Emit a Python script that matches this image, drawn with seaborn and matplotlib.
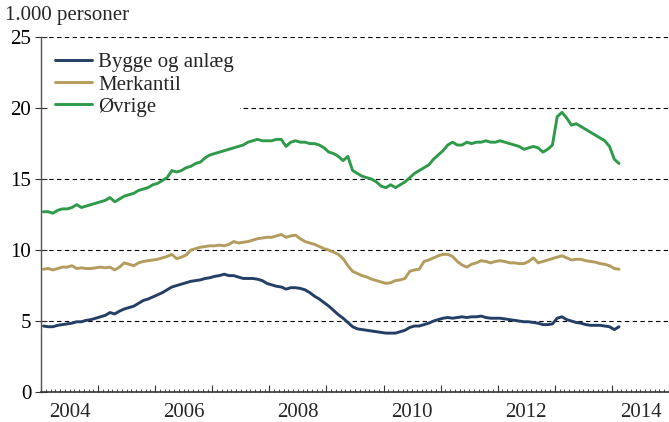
import numpy as np
import pandas as pd
import matplotlib
matplotlib.use("Agg")
import matplotlib.pyplot as plt
import seaborn as sns
from matplotlib.ticker import MultipleLocator, NullFormatter

# Monthly data, Jan 2004 - Feb 2014 (1.000 personer)
start_year = 2004
series_names = ["Bygge og anlæg", "Merkantil", "Øvrige"]

bygge = [4.65, 4.6, 4.6, 4.7, 4.75, 4.8, 4.85, 4.95, 4.95, 5.05, 5.1, 5.2,
         5.3, 5.4, 5.6, 5.5, 5.7, 5.85, 5.95, 6.05, 6.25, 6.45, 6.55, 6.7,
         6.85, 7.0, 7.2, 7.4, 7.5, 7.6, 7.7, 7.8, 7.85, 7.9, 8.0, 8.05,
         8.15, 8.2, 8.3, 8.2, 8.2, 8.1, 8.0, 8.0, 8.0, 7.95, 7.85, 7.65,
         7.55, 7.45, 7.4, 7.25, 7.35, 7.35, 7.3, 7.2, 7.0, 6.75, 6.55, 6.3,
         6.05, 5.75, 5.45, 5.2, 4.9, 4.6, 4.45, 4.4, 4.35, 4.3, 4.25, 4.2,
         4.15, 4.15, 4.15, 4.25, 4.35, 4.55, 4.65, 4.65, 4.75, 4.85, 5.0, 5.1,
         5.2, 5.25, 5.2, 5.25, 5.3, 5.25, 5.3, 5.3, 5.35, 5.25, 5.2, 5.2,
         5.2, 5.15, 5.1, 5.05, 5.0, 4.95, 4.95, 4.9, 4.85, 4.75, 4.75, 4.8,
         5.2, 5.3, 5.1, 5.0, 4.9, 4.85, 4.75, 4.7, 4.7, 4.7, 4.65, 4.6,
         4.4, 4.6]

merkantil = [8.65, 8.7, 8.6, 8.7, 8.8, 8.8, 8.9, 8.7, 8.75, 8.7, 8.7, 8.75,
             8.8, 8.75, 8.8, 8.6, 8.8, 9.1, 9.0, 8.9, 9.1, 9.2, 9.25, 9.3,
             9.35, 9.45, 9.55, 9.7, 9.4, 9.5, 9.65, 10.0, 10.1, 10.2, 10.25, 10.3,
             10.3, 10.35, 10.3, 10.4, 10.6, 10.5, 10.55, 10.6, 10.7, 10.8, 10.85, 10.9,
             10.9, 11.0, 11.1, 10.9, 11.0, 11.05, 10.8, 10.6, 10.5, 10.4, 10.25, 10.1,
             10.0, 9.85, 9.7, 9.4, 8.9, 8.5, 8.35, 8.2, 8.1, 7.95, 7.85, 7.75,
             7.65, 7.7, 7.85, 7.9, 8.0, 8.5, 8.6, 8.65, 9.2, 9.3, 9.45, 9.6,
             9.7, 9.7, 9.55, 9.2, 8.95, 8.8, 9.0, 9.1, 9.25, 9.2, 9.1, 9.2,
             9.25, 9.2, 9.1, 9.1, 9.05, 9.05, 9.2, 9.45, 9.1, 9.2, 9.3, 9.4,
             9.5, 9.6, 9.45, 9.3, 9.35, 9.35, 9.25, 9.2, 9.15, 9.05, 9.0, 8.9,
             8.7, 8.65]

ovrige = [12.7, 12.7, 12.6, 12.8, 12.9, 12.9, 13.0, 13.2, 13.0, 13.1, 13.2, 13.3,
          13.4, 13.5, 13.7, 13.4, 13.6, 13.8, 13.9, 14.0, 14.2, 14.3, 14.4, 14.6,
          14.7, 14.9, 15.1, 15.6, 15.5, 15.6, 15.8, 15.9, 16.1, 16.2, 16.5, 16.7,
          16.8, 16.9, 17.0, 17.1, 17.2, 17.3, 17.4, 17.6, 17.7, 17.8, 17.7, 17.7,
          17.7, 17.8, 17.8, 17.3, 17.6, 17.7, 17.6, 17.6, 17.5, 17.5, 17.4, 17.2,
          16.9, 16.8, 16.6, 16.3, 16.6, 15.6, 15.4, 15.2, 15.1, 15.0, 14.8, 14.5,
          14.4, 14.6, 14.4, 14.6, 14.8, 15.1, 15.4, 15.6, 15.8, 16.0, 16.4, 16.7,
          17.0, 17.4, 17.6, 17.4, 17.4, 17.6, 17.5, 17.6, 17.6, 17.7, 17.6, 17.6,
          17.7, 17.6, 17.5, 17.4, 17.3, 17.1, 17.2, 17.3, 17.2, 16.9, 17.1, 17.4,
          19.4, 19.7, 19.3, 18.8, 18.9, 18.7, 18.5, 18.3, 18.1, 17.9, 17.7, 17.3,
          16.4, 16.1]

year_labels = ["2004", "2006", "2008", "2010", "2012", "2014"]
y_ticks = [0, 5, 10, 15, 20, 25]

colors = ["#243f66", "#b39c5e", "#2e9a4a"]

n = len(bygge)
t = start_year + (np.arange(n) + 0.5) / 12.0
df = pd.DataFrame({
    "t": np.concatenate([t, t, t]),
    "value": bygge + merkantil + ovrige,
    "series": np.repeat(series_names, n),
})

sns.set_theme(style="white")
plt.rcParams["font.family"] = ["Liberation Serif", "DejaVu Serif"]
FS = 15

fig = plt.figure(figsize=(6.69, 4.22), dpi=100)
ax = fig.add_axes([0.0613, 0.071, 0.9387, 0.841])

for yv in y_ticks[1:]:
    ax.axhline(yv, color="black", lw=0.8, ls=(0, (4, 3)), zorder=0)

sns.lineplot(data=df, x="t", y="value", hue="series", hue_order=series_names,
             palette=colors, linewidth=2.1, ax=ax, legend=True)

ax.set_xlim(2004, 2015)
ax.set_ylim(0, 25)
ax.set_xlabel("")
ax.set_ylabel("")

ax.xaxis.set_major_locator(MultipleLocator(1))
ax.xaxis.set_minor_locator(MultipleLocator(1 / 12))
ax.xaxis.set_major_formatter(NullFormatter())
label_pos = [int(y) + 0.5 for y in year_labels]
for pos, lab in zip(label_pos, year_labels):
    ax.text(pos, -0.8, lab, ha="center", va="top", fontsize=FS,
            transform=ax.transData)

ax.set_yticks(y_ticks)
ax.set_yticklabels([str(v) for v in y_ticks], fontsize=FS)

ax.tick_params(axis="x", which="major", direction="in", length=5, width=0.8,
               color="#333333", bottom=True)
ax.tick_params(axis="x", which="minor", direction="in", length=2.5, width=0.6,
               color="#333333", bottom=True)
ax.tick_params(axis="y", which="major", direction="inout", length=8, width=0.8,
               color="#333333", left=True, pad=3, labelcolor="black")

for s in ["top", "right"]:
    ax.spines[s].set_visible(False)
ax.spines["left"].set_color("#555555")
ax.spines["left"].set_linewidth(1.0)
ax.spines["bottom"].set_color("#333333")
ax.spines["bottom"].set_linewidth(1.2)

leg = ax.legend(loc="upper left", bbox_to_anchor=(0.005, 0.985), fontsize=FS,
                frameon=True, framealpha=1.0, facecolor="white", edgecolor="white",
                handlelength=1.8, handletextpad=0.3, labelspacing=0.12,
                borderpad=0.3, borderaxespad=0.2)
leg.get_frame().set_linewidth(0)

fig.text(0.007, 0.985, "1.000 personer", ha="left", va="top", fontsize=FS)

fig.savefig("out.png", dpi=100)
